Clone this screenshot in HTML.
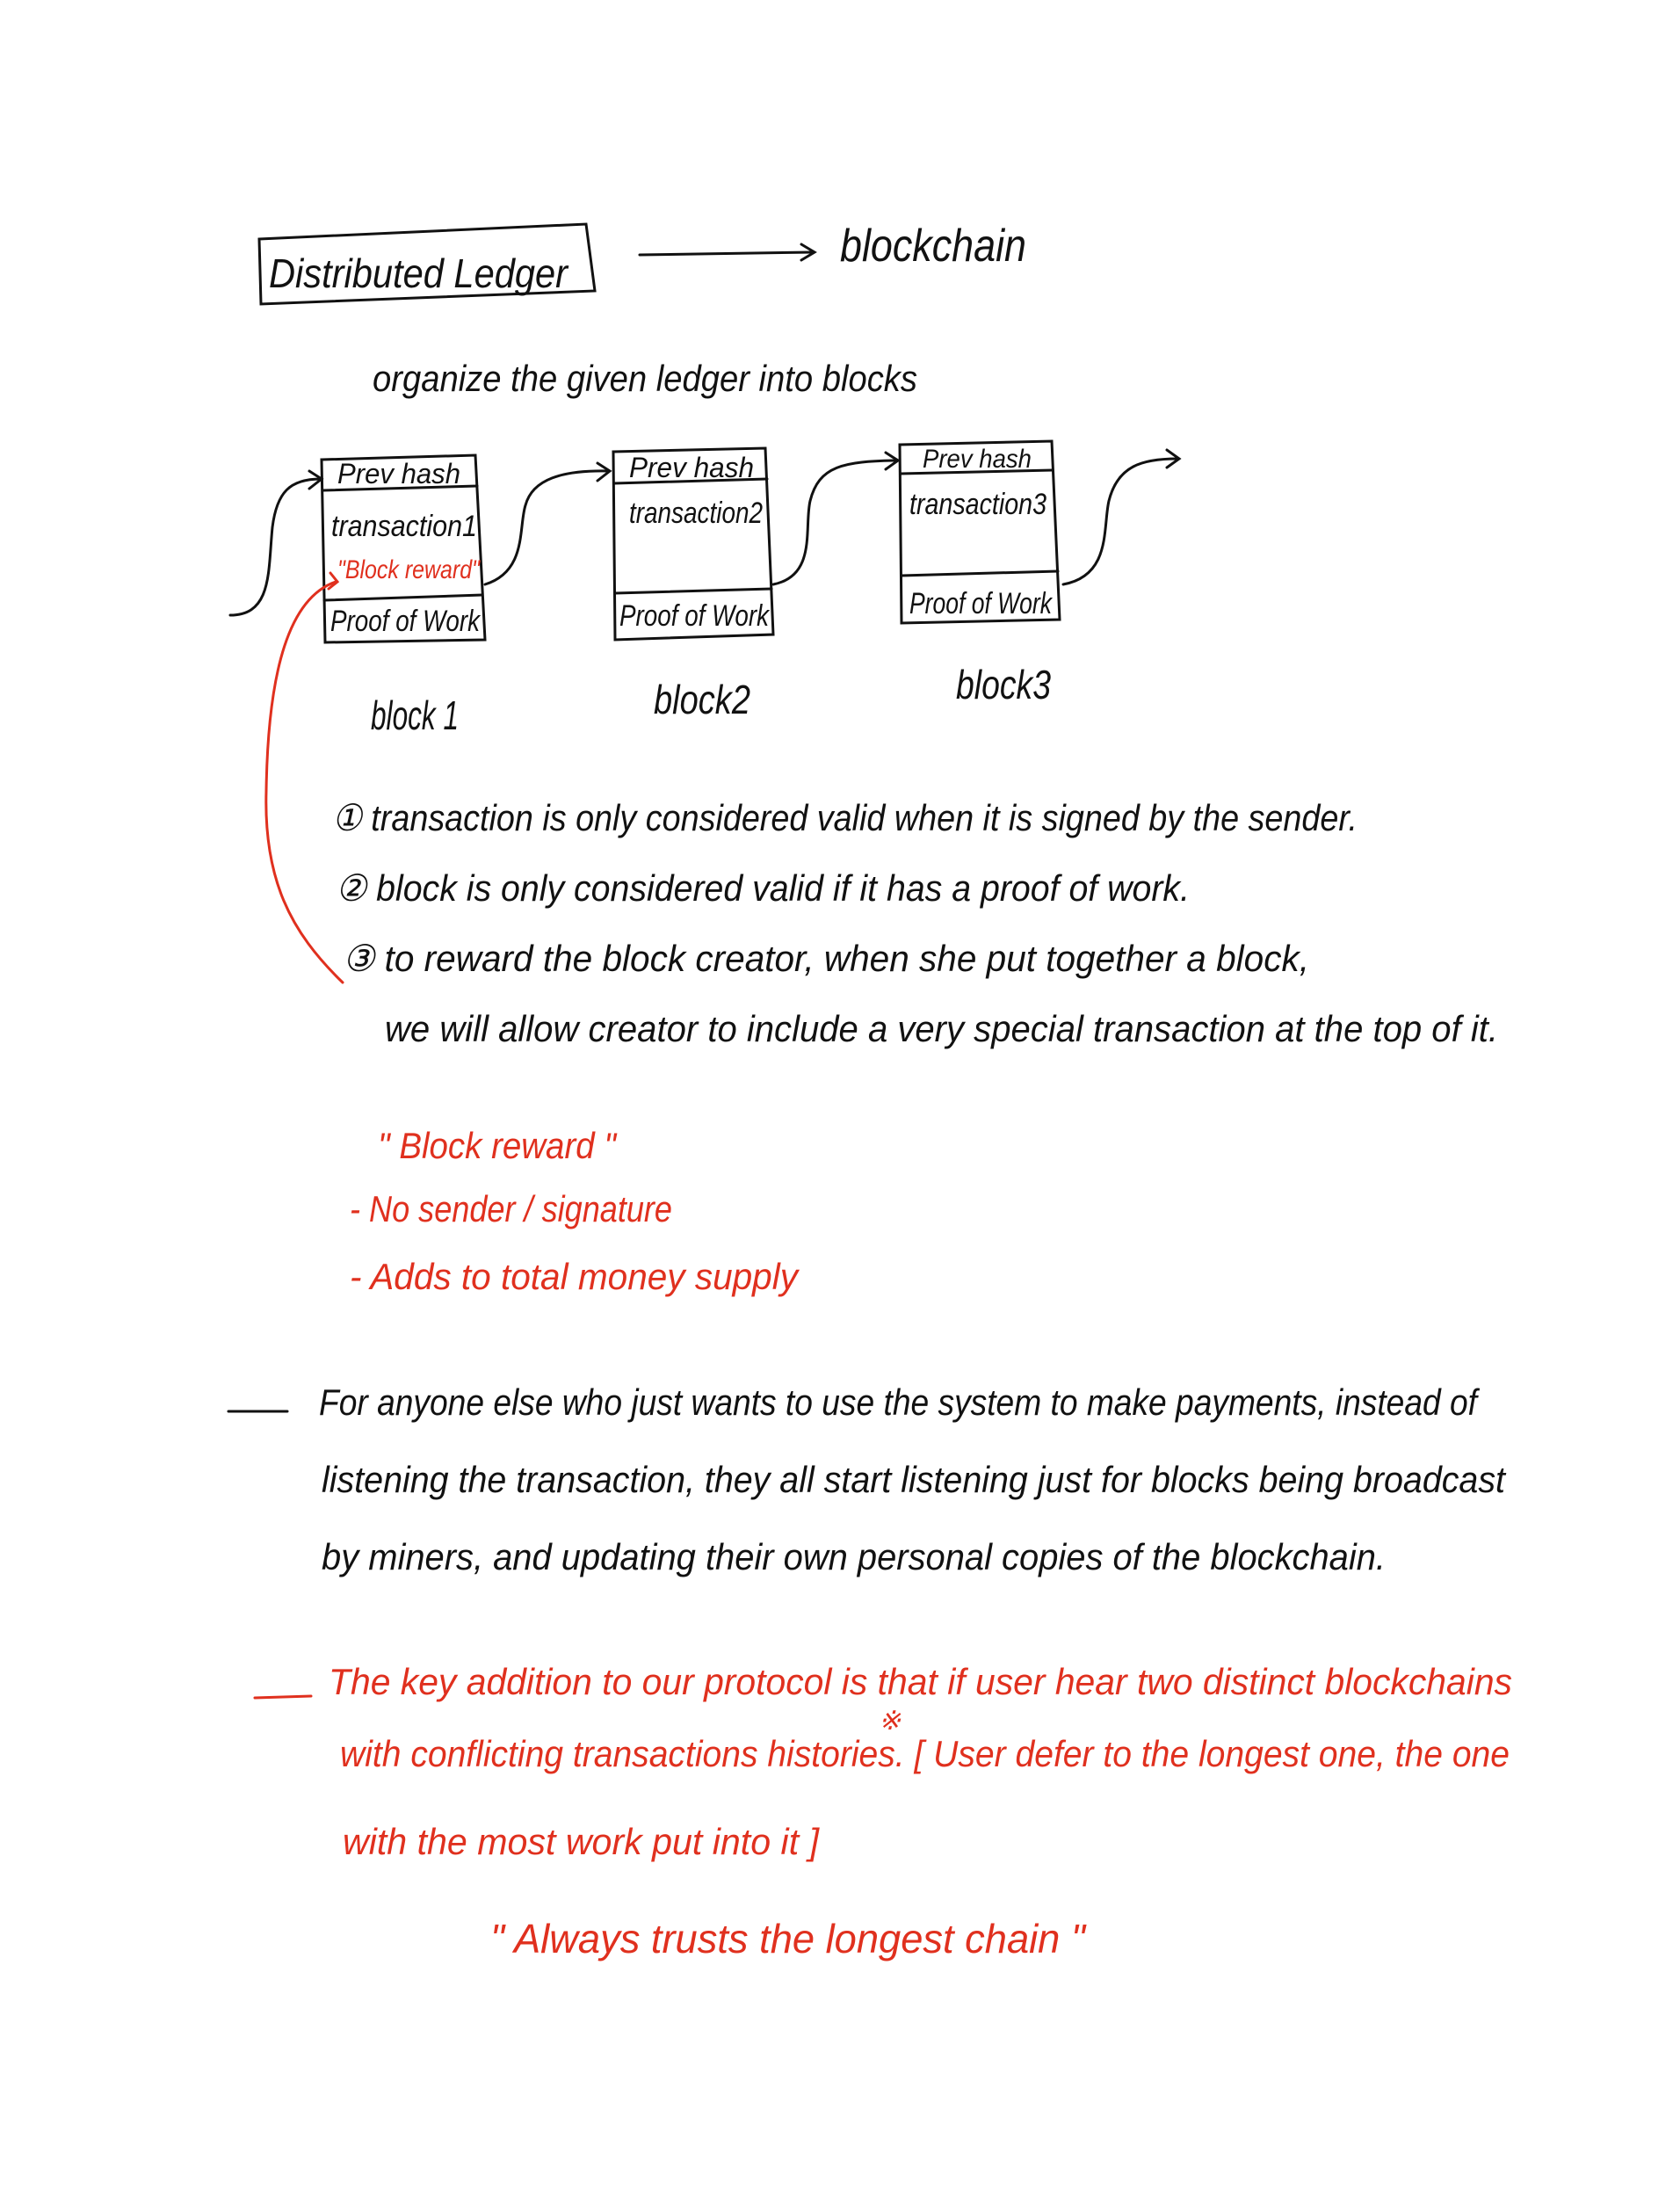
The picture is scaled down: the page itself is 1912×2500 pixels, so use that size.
<!DOCTYPE html>
<html><head><meta charset="utf-8"><style>
html,body{margin:0;padding:0;background:#fff;}
svg{display:block}
text{font-family:"Liberation Sans",sans-serif;font-style:italic;}
.k{fill:#111}
.r{fill:#e0301e}
</style></head><body>
<svg width="1912" height="2500" viewBox="0 0 1912 2500" xmlns="http://www.w3.org/2000/svg">
<g fill="none" stroke="#111" stroke-width="3" stroke-linecap="round">
<polygon points="295,272 667,255 677,331 297,346"/>
<line x1="728" y1="290" x2="925" y2="287"/><polyline points="912,278 927,287 912,296"/>
<!-- block1 -->
<polygon points="366,523 541,518 552,728 370,731"/>
<line x1="368" y1="558" x2="543" y2="553"/>
<line x1="369" y1="683" x2="549" y2="677"/>
<!-- block2 -->
<polygon points="698,514 871,510 880,722 700,728"/>
<line x1="699" y1="550" x2="873" y2="545"/>
<line x1="700" y1="675" x2="878" y2="670"/>
<!-- block3 -->
<polygon points="1024,506 1197,502 1206,705 1026,709"/>
<line x1="1025" y1="539" x2="1198" y2="535"/>
<line x1="1026" y1="655" x2="1204" y2="650"/>
<!-- connectors -->
<path d="M262,700 C310,700 305,650 310,600 C315,560 330,545 365,545"/><polyline points="352,536 366,545 352,556"/>
<path d="M552,665 C600,650 590,600 598,575 C606,545 640,535 692,536"/><polyline points="680,527 694,536 680,547"/>
<path d="M880,665 C930,655 915,600 922,570 C932,530 960,525 1020,524"/><polyline points="1008,515 1022,524 1008,534"/>
<path d="M1210,665 C1265,655 1255,600 1262,570 C1272,530 1300,522 1340,522"/><polyline points="1328,512 1342,522 1328,532"/>
<line x1="260" y1="1606" x2="327" y2="1606"/>
</g>
<g fill="none" stroke="#e0301e" stroke-width="3" stroke-linecap="round">
<path d="M382,662 C330,680 305,760 303,900 C300,1000 330,1060 390,1118"/><polyline points="376,652 384,662 374,670"/>
<line x1="290" y1="1932" x2="354" y2="1930"/>
</g>
<g class="k">
<text x="306" y="327" font-size="46" textLength="340" lengthAdjust="spacingAndGlyphs">Distributed  Ledger</text>
<text x="956" y="297" font-size="52" textLength="212" lengthAdjust="spacingAndGlyphs">blockchain</text>
<text x="424" y="445" font-size="42" textLength="620" lengthAdjust="spacingAndGlyphs">organize the given ledger into blocks</text>
<text x="384" y="550" font-size="32" textLength="140" lengthAdjust="spacingAndGlyphs">Prev hash</text>
<text x="377" y="610" font-size="34" textLength="166" lengthAdjust="spacingAndGlyphs">transaction1</text>
<text x="376" y="718" font-size="34" textLength="170" lengthAdjust="spacingAndGlyphs">Proof of Work</text>
<text x="716" y="543" font-size="32" textLength="142" lengthAdjust="spacingAndGlyphs">Prev hash</text>
<text x="716" y="595" font-size="34" textLength="152" lengthAdjust="spacingAndGlyphs">transaction2</text>
<text x="705" y="712" font-size="34" textLength="170" lengthAdjust="spacingAndGlyphs">Proof of Work</text>
<text x="1050" y="532" font-size="30" textLength="124" lengthAdjust="spacingAndGlyphs">Prev hash</text>
<text x="1035" y="585" font-size="34" textLength="156" lengthAdjust="spacingAndGlyphs">transaction3</text>
<text x="1035" y="698" font-size="34" textLength="162" lengthAdjust="spacingAndGlyphs">Proof of Work</text>
<text x="422" y="830" font-size="46" textLength="100" lengthAdjust="spacingAndGlyphs">block 1</text>
<text x="744" y="812" font-size="46" textLength="110" lengthAdjust="spacingAndGlyphs">block2</text>
<text x="1088" y="795" font-size="46" textLength="108" lengthAdjust="spacingAndGlyphs">block3</text>
<text x="378" y="945" font-size="42" textLength="1167" lengthAdjust="spacingAndGlyphs">① transaction is only considered valid when it is signed by the sender.</text>
<text x="382" y="1025" font-size="42" textLength="972" lengthAdjust="spacingAndGlyphs">② block is only considered valid if it has a proof of work.</text>
<text x="390" y="1105" font-size="42" textLength="1100" lengthAdjust="spacingAndGlyphs">③ to reward the block creator, when she put together a block,</text>
<text x="438" y="1185" font-size="42" textLength="1267" lengthAdjust="spacingAndGlyphs">we will allow creator to include a very special transaction at the top of it.</text>
<text x="363" y="1610" font-size="42" textLength="1318" lengthAdjust="spacingAndGlyphs">For anyone else who just wants to use the system to make payments, instead of</text>
<text x="366" y="1698" font-size="42" textLength="1347" lengthAdjust="spacingAndGlyphs">listening the transaction, they all start listening just for blocks being broadcast</text>
<text x="366" y="1786" font-size="42" textLength="1211" lengthAdjust="spacingAndGlyphs">by miners, and updating their own personal copies of the blockchain.</text>
</g>
<g class="r">
<text x="384" y="658" font-size="30" textLength="162" lengthAdjust="spacingAndGlyphs">"Block reward"</text>
<text x="430" y="1318" font-size="42" textLength="271" lengthAdjust="spacingAndGlyphs">" Block reward "</text>
<text x="398" y="1390" font-size="42" textLength="367" lengthAdjust="spacingAndGlyphs">- No sender / signature</text>
<text x="398" y="1467" font-size="42" textLength="510" lengthAdjust="spacingAndGlyphs">- Adds to total money supply</text>
<text x="374" y="1928" font-size="42" textLength="1347" lengthAdjust="spacingAndGlyphs">The key addition to our protocol is that if user hear two distinct blockchains</text>
<text x="387" y="2010" font-size="42" textLength="1331" lengthAdjust="spacingAndGlyphs">with conflicting transactions histories. [ User defer to the longest one, the one</text>
<text x="1000" y="1968" font-size="30">※</text>
<text x="390" y="2110" font-size="42" textLength="542" lengthAdjust="spacingAndGlyphs">with the most work put into it ]</text>
<text x="558" y="2222" font-size="46" textLength="677" lengthAdjust="spacingAndGlyphs">"  Always trusts the longest chain    "</text>
</g>
</svg>
</body></html>
